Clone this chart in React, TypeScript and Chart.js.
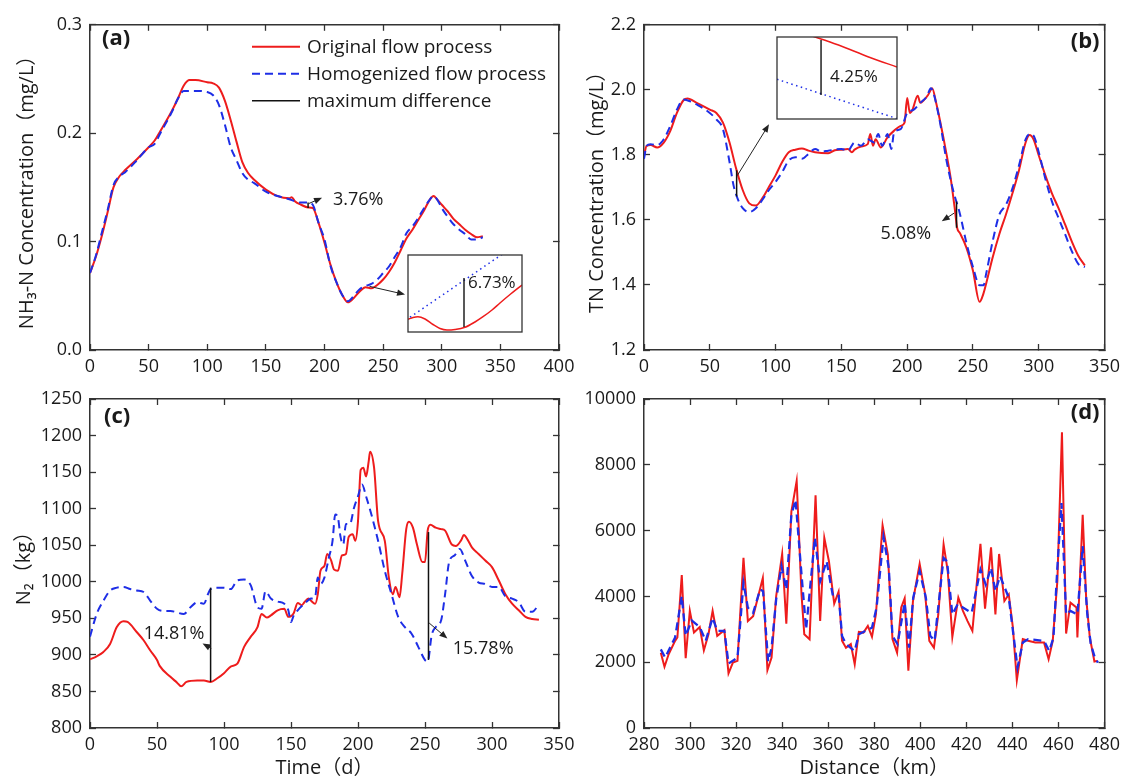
import React, { useEffect, useRef } from 'react';
import { Chart, registerables } from 'chart.js';

Chart.register(...registerables);

const W = 1132;
const H = 778;
const FONT = "'Open Sans', 'Noto Sans CJK SC', sans-serif";
const RED = '#ee1c1c';
const BLUE = '#1e2ee6';
const INK = '#1a1a1a';
const AXIS = '#333333';
Chart.defaults.font.family = FONT;
Chart.defaults.color = INK;

// ---------- (a) NH3-N ----------
const aRedX = [0, 5, 10, 15, 20, 25, 30, 40, 50, 55, 60, 70, 75, 80, 85, 90, 100, 105, 110, 115, 120, 125, 130, 135, 140, 150, 160, 170, 172, 175, 180, 186, 190, 195, 200, 205, 210, 215, 220, 225, 230, 235, 240, 245, 250, 255, 260, 265, 270, 275, 280, 285, 290, 293, 296, 300, 305, 310, 315, 320, 325, 330, 335];
const aRedY = [0.071, 0.086, 0.105, 0.127, 0.150, 0.160, 0.166, 0.176, 0.187, 0.193, 0.202, 0.221, 0.232, 0.244, 0.249, 0.249, 0.247, 0.246, 0.242, 0.230, 0.212, 0.192, 0.173, 0.163, 0.157, 0.148, 0.142, 0.140, 0.141, 0.137, 0.134, 0.1315, 0.131, 0.117, 0.099, 0.079, 0.063, 0.051, 0.044, 0.048, 0.054, 0.058, 0.057, 0.060, 0.065, 0.072, 0.081, 0.092, 0.103, 0.111, 0.120, 0.129, 0.139, 0.142, 0.139, 0.134, 0.128, 0.121, 0.116, 0.111, 0.107, 0.104, 0.105];
const aBlueX = [0, 5, 10, 15, 20, 25, 30, 40, 50, 55, 60, 70, 75, 80, 90, 100, 105, 110, 115, 120, 125, 130, 135, 140, 150, 160, 170, 180, 186, 190, 195, 200, 205, 210, 215, 220, 225, 230, 235, 240, 245, 250, 255, 260, 265, 270, 275, 280, 285, 290, 293, 296, 300, 305, 310, 315, 320, 325, 330, 335];
const aBlueY = [0.071, 0.087, 0.108, 0.129, 0.152, 0.160, 0.164, 0.175, 0.187, 0.190, 0.200, 0.220, 0.232, 0.239, 0.239, 0.238, 0.235, 0.226, 0.208, 0.187, 0.175, 0.163, 0.157, 0.154, 0.146, 0.142, 0.139, 0.136, 0.136, 0.134, 0.117, 0.102, 0.078, 0.063, 0.051, 0.045, 0.050, 0.056, 0.059, 0.061, 0.065, 0.071, 0.077, 0.086, 0.095, 0.108, 0.114, 0.122, 0.131, 0.139, 0.142, 0.139, 0.131, 0.123, 0.116, 0.111, 0.107, 0.102, 0.102, 0.104];
const aDiffX = [186];
const aDiffLo = [0.131];
const aDiffHi = [0.136];

// inset of (a)
const iaRedX = [232.0, 232.7, 233.4, 234.39, 235.51, 236.49, 237.47, 238.6, 240.0, 241.4, 242.53, 243.79, 244.91, 246.32, 248.0];
const iaRedY = [0.05598, 0.05626, 0.05638, 0.05603, 0.05517, 0.05455, 0.05431, 0.05439, 0.05473, 0.05556, 0.05638, 0.05743, 0.05852, 0.05984, 0.06132];
const iaBlueX = [232.28, 245.2];
const iaBlueY = [0.0563, 0.0661];
const iaDiffX = [239.86];
const iaDiffLo = [0.05478];
const iaDiffHi = [0.06242];

// ---------- (b) TN ----------
const bRedX = [0, 2, 5, 10, 15, 20, 25, 30, 33, 40, 50, 55, 60, 65, 70, 75, 80, 85, 90, 95, 100, 105, 110, 115, 120, 125, 130, 140, 145, 150, 155, 158, 160, 165, 170, 172, 174, 176, 180, 185, 190, 195, 198, 200, 202, 204, 208, 210, 213, 216, 219, 222, 225, 230, 233, 236, 238, 240, 245, 250, 255, 258, 260, 265, 270, 275, 280, 285, 290, 293, 296, 300, 305, 310, 315, 320, 325, 330, 335];
const bRedY = [1.798, 1.828, 1.830, 1.823, 1.838, 1.874, 1.929, 1.968, 1.973, 1.960, 1.939, 1.929, 1.899, 1.838, 1.758, 1.692, 1.651, 1.644, 1.667, 1.702, 1.737, 1.778, 1.808, 1.816, 1.820, 1.813, 1.808, 1.805, 1.814, 1.816, 1.818, 1.808, 1.816, 1.826, 1.833, 1.864, 1.828, 1.848, 1.823, 1.854, 1.874, 1.889, 1.899, 1.975, 1.929, 1.939, 1.982, 1.960, 1.970, 1.985, 2.005, 1.960, 1.904, 1.800, 1.730, 1.640, 1.575, 1.560, 1.515, 1.444, 1.348, 1.374, 1.404, 1.485, 1.556, 1.616, 1.682, 1.753, 1.838, 1.861, 1.848, 1.798, 1.737, 1.682, 1.636, 1.586, 1.535, 1.490, 1.460];
const bBlueX = [0, 2, 5, 10, 15, 20, 25, 30, 35, 40, 50, 55, 60, 65, 68, 71, 75, 80, 85, 90, 95, 100, 105, 110, 115, 120, 125, 130, 135, 140, 150, 155, 160, 165, 170, 175, 178, 181, 185, 188, 190, 195, 200, 205, 210, 215, 218, 220, 225, 230, 235, 240, 245, 250, 255, 258, 260, 265, 270, 275, 280, 285, 290, 293, 296, 300, 305, 310, 315, 320, 325, 330, 335];
const bBlueY = [1.788, 1.828, 1.833, 1.830, 1.848, 1.889, 1.939, 1.970, 1.965, 1.955, 1.929, 1.909, 1.879, 1.778, 1.707, 1.667, 1.636, 1.624, 1.636, 1.662, 1.692, 1.717, 1.747, 1.783, 1.793, 1.788, 1.803, 1.818, 1.810, 1.813, 1.818, 1.813, 1.838, 1.828, 1.848, 1.838, 1.864, 1.828, 1.864, 1.818, 1.869, 1.879, 1.929, 1.939, 1.960, 1.980, 2.005, 1.990, 1.899, 1.780, 1.690, 1.620, 1.530, 1.455, 1.399, 1.399, 1.434, 1.535, 1.616, 1.646, 1.697, 1.768, 1.848, 1.864, 1.859, 1.808, 1.727, 1.657, 1.606, 1.556, 1.505, 1.465, 1.455];
const bDiffX = [70.4, 237.5];
const bDiffLo = [1.672, 1.576];
const bDiffHi = [1.753, 1.657];

// inset of (b)
const ibRedX = [68.92, 70.42, 72.08, 73.75, 76.0];
const ibRedY = [1.7817, 1.7715, 1.7587, 1.745, 1.7288];
const ibBlueX = [66.0, 76.0];
const ibBlueY = [1.7078, 1.6407];
const ibDiffX = [69.67];
const ibDiffLo = [1.681];
const ibDiffHi = [1.7749];

// ---------- (c) N2 ----------
const cRedX = [0, 5, 10, 15, 20, 25, 28, 35, 40, 45, 50, 52, 60, 65, 68, 72, 80, 85, 90, 95, 100, 105, 110, 115, 120, 125, 128, 132, 135, 140, 145, 148, 150, 152, 155, 158, 160, 163, 165, 168, 170, 172, 175, 177, 180, 182, 185, 188, 191, 193, 196, 198, 200, 202, 204, 206, 208, 209, 212, 215, 220, 223, 226, 228, 231, 233, 236, 238, 241, 244, 248, 250, 252, 254, 258, 262, 265, 270, 273, 277, 279, 282, 285, 290, 295, 300, 305, 310, 315, 320, 325, 330, 335];
const cRedY = [894, 898, 904, 915, 938, 946, 945, 931, 920, 906, 893, 885, 870, 862, 857, 863, 865, 865, 863, 868, 875, 884, 888, 911, 925, 938, 956, 951, 954, 961, 963, 952, 953, 957, 971, 968, 972, 977, 974, 970, 983, 1015, 1022, 1038, 1029, 1017, 1015, 1036, 1038, 1061, 1065, 1056, 1083, 1153, 1156, 1144, 1165, 1178, 1156, 1083, 1056, 1006, 983, 993, 979, 1011, 1072, 1082, 1074, 1051, 1027, 1027, 1070, 1078, 1074, 1072, 1070, 1051, 1049, 1057, 1064, 1057, 1047, 1038, 1029, 1020, 1002, 983, 970, 961, 952, 949, 948];
const cBlueX = [0, 5, 10, 15, 20, 25, 30, 35, 40, 45, 50, 55, 60, 70, 75, 80, 85, 88, 90, 95, 100, 105, 110, 115, 120, 125, 128, 131, 135, 140, 145, 148, 150, 152, 155, 160, 165, 168, 170, 172, 175, 178, 181, 183, 185, 187, 189, 191, 194, 197, 200, 203, 206, 210, 215, 220, 225, 230, 235, 240, 245, 250, 252, 255, 258, 262, 265, 268, 272, 276, 280, 285, 290, 295, 300, 305, 310, 315, 320, 325, 330, 335];
const cBlueY = [925, 956, 974, 988, 992, 993, 990, 988, 986, 974, 963, 960, 960, 956, 965, 972, 970, 983, 990, 992, 992, 990, 1002, 1003, 995, 965, 963, 987, 977, 973, 970, 961, 945, 954, 961, 970, 977, 979, 1006, 997, 1006, 1031, 1056, 1092, 1088, 1061, 1051, 1079, 1079, 1101, 1117, 1133, 1117, 1092, 1056, 1015, 983, 952, 938, 929, 911, 893, 891, 927, 938, 947, 983, 1027, 1036, 1045, 1029, 1008, 999, 997, 993, 993, 980, 977, 972, 959, 959, 969];
const cDiffX = [90, 252.6];
const cDiffLo = [863, 893];
const cDiffHi = [992, 1068];

// ---------- (d) along distance ----------
const dRedX = [287.3, 288.9, 290.7, 293.5, 294.5, 296.4, 298.1, 299.9, 301.7, 304.2, 306.0, 308.0, 309.8, 311.8, 314.9, 316.7, 318.6, 320.6, 323.2, 325.1, 327.4, 331.6, 333.6, 335.4, 337.4, 340.0, 341.8, 344.0, 346.3, 348.4, 349.6, 351.9, 354.5, 356.5, 358.3, 360.3, 362.6, 364.5, 366.0, 367.7, 369.8, 371.5, 373.3, 375.3, 377.2, 379.0, 380.7, 383.6, 385.9, 387.9, 389.9, 391.7, 393.2, 394.8, 396.8, 399.7, 402.1, 403.9, 405.9, 407.8, 410.1, 411.9, 413.9, 416.5, 418.5, 420.5, 422.6, 426.1, 428.1, 430.7, 432.6, 434.2, 436.5, 438.4, 440.2, 441.9, 444.5, 446.8, 449.9, 453.7, 455.7, 457.5, 459.5, 461.5, 463.3, 465.2, 467.8, 468.2, 470.5, 472.0, 473.6, 475.6, 476.9];
const dRedY = [2290, 1860, 2240, 2650, 2750, 4650, 2120, 3560, 2900, 3070, 2360, 2850, 3560, 2800, 2970, 1660, 1990, 2040, 5170, 3250, 3400, 4560, 1760, 2140, 4010, 5290, 3170, 6580, 7510, 4060, 2850, 2700, 7070, 3250, 5780, 5070, 3780, 4140, 2650, 2440, 2550, 1940, 2920, 2900, 3100, 2770, 3450, 6160, 5270, 2700, 2290, 3660, 3940, 1740, 3860, 4990, 4060, 2650, 2440, 3450, 5580, 4770, 2770, 3960, 3560, 3250, 2950, 5600, 3630, 5490, 3450, 5290, 3860, 4060, 3050, 1450, 2700, 2650, 2600, 2600, 2090, 2650, 4460, 8990, 2870, 3810, 3660, 2750, 6480, 3960, 2750, 2020, 2040];
const dBlueX = [287.3, 289.2, 293.5, 296.4, 298.1, 300.7, 304.2, 306.8, 309.8, 311.8, 314.9, 316.7, 320.6, 323.2, 325.1, 327.4, 330.4, 331.7, 333.9, 335.4, 337.4, 339.7, 341.8, 344.0, 345.8, 348.4, 350.4, 354.2, 356.5, 359.3, 361.9, 364.5, 366.0, 367.7, 371.5, 373.3, 379.0, 381.0, 384.0, 386.3, 387.9, 390.1, 393.2, 395.1, 396.9, 399.7, 402.4, 404.3, 406.2, 410.1, 411.6, 413.9, 416.2, 422.3, 426.1, 428.4, 430.7, 432.6, 434.6, 438.4, 442.2, 444.5, 446.8, 453.7, 456.0, 457.8, 459.5, 461.3, 463.3, 465.2, 468.2, 470.5, 472.5, 474.0, 475.8, 477.1];
const dBlueY = [2390, 2140, 2750, 4010, 2800, 3270, 3070, 2650, 3350, 2950, 2950, 1960, 2140, 4410, 3660, 3500, 4210, 4160, 2020, 2440, 3910, 4920, 4210, 6480, 6940, 4670, 3000, 5780, 4460, 5070, 4060, 4060, 2800, 2550, 2340, 2850, 3050, 3660, 5800, 4870, 2800, 2550, 3810, 2440, 3960, 4770, 3960, 2800, 2650, 5170, 5070, 3450, 3760, 3500, 4820, 4360, 4870, 4160, 4620, 3960, 1840, 2600, 2700, 2650, 2340, 2750, 4870, 6840, 3450, 3560, 3450, 5530, 3450, 2550, 2140, 1990];

// ---------- labels ----------
const LABEL_RED = 'Original flow process';
const LABEL_BLUE = 'Homogenized flow process';
const LABEL_DIFF = 'maximum difference';

type Pt = { x: number; y: number };
const pts = (xs: number[], ys: number[]): Pt[] => xs.map((x, i) => ({ x, y: ys[i] }));

function redSet(xs: number[], ys: number[], smooth = true, width = 2) {
  return {
    label: LABEL_RED, data: pts(xs, ys), borderColor: RED, borderWidth: width,
    pointRadius: 0, fill: false, xAxisID: 'x', yAxisID: 'y',
    cubicInterpolationMode: smooth ? 'monotone' : 'default', tension: 0,
  };
}
function blueSet(xs: number[], ys: number[], smooth = true, dash = [8, 5], width = 2) {
  return {
    label: LABEL_BLUE, data: pts(xs, ys), borderColor: BLUE, borderWidth: width, borderDash: dash,
    pointRadius: 0, fill: false, xAxisID: 'x', yAxisID: 'y',
    cubicInterpolationMode: smooth ? 'monotone' : 'default', tension: 0,
  };
}
function diffSets(xs: number[], lo: number[], hi: number[], width = 1.5) {
  return xs.map((x, i) => ({
    label: LABEL_DIFF, data: [{ x, y: lo[i] }, { x, y: hi[i] }], borderColor: '#111111',
    borderWidth: width, pointRadius: 0, fill: false, xAxisID: 'x', yAxisID: 'y',
  }));
}

type Arrow = [number, number, number, number];
type Txt = { text: string; x: number; y: number; align: CanvasTextAlign; size: number };
type Notes = {
  arrows?: Arrow[];
  texts?: Txt[];
  panel?: { text: string; dx: number; dy: number; align: CanvasTextAlign };
  legend?: { dx: number; dy: number; gap: number; len: number; order: number[] };
  box?: boolean;
  fill?: boolean;
};

function drawArrow(ctx: CanvasRenderingContext2D, x1: number, y1: number, x2: number, y2: number) {
  const ang = Math.atan2(y2 - y1, x2 - x1);
  const L = 8;
  const hw = 3.2;
  const c = Math.cos(ang);
  const s = Math.sin(ang);
  ctx.beginPath();
  ctx.moveTo(x1, y1);
  ctx.lineTo(x2 - L * 0.7 * c, y2 - L * 0.7 * s);
  ctx.stroke();
  ctx.beginPath();
  ctx.moveTo(x2, y2);
  ctx.lineTo(x2 - L * c + hw * s, y2 - L * s - hw * c);
  ctx.lineTo(x2 - L * c - hw * s, y2 - L * s + hw * c);
  ctx.closePath();
  ctx.fill();
}

function notesPlugin(spec: Notes) {
  return {
    id: 'notes',
    beforeDatasetsDraw(chart: any) {
      if (!spec.fill) return;
      const { left, top, right, bottom } = chart.chartArea;
      const ctx = chart.ctx;
      ctx.save();
      ctx.fillStyle = '#ffffff';
      ctx.fillRect(left, top, right - left, bottom - top);
      ctx.restore();
    },
    afterDraw(chart: any) {
      const ctx: CanvasRenderingContext2D = chart.ctx;
      const xs = chart.scales.x;
      const ys = chart.scales.y;
      const ca = chart.chartArea;
      ctx.save();
      if (spec.box) {
        ctx.strokeStyle = AXIS;
        ctx.lineWidth = 1.3;
        ctx.strokeRect(ca.left, ca.top, ca.right - ca.left, ca.bottom - ca.top);
      }
      ctx.strokeStyle = '#222222';
      ctx.fillStyle = '#222222';
      ctx.lineWidth = 1;
      (spec.arrows || []).forEach((a) => {
        drawArrow(ctx, xs.getPixelForValue(a[0]), ys.getPixelForValue(a[1]), xs.getPixelForValue(a[2]), ys.getPixelForValue(a[3]));
      });
      ctx.fillStyle = INK;
      ctx.textBaseline = 'middle';
      (spec.texts || []).forEach((t) => {
        ctx.font = `${t.size}px ${FONT}`;
        ctx.textAlign = t.align;
        ctx.fillText(t.text, xs.getPixelForValue(t.x), ys.getPixelForValue(t.y));
      });
      if (spec.panel) {
        const p = spec.panel;
        ctx.font = `bold 22px ${FONT}`;
        ctx.textAlign = p.align;
        const x = p.align === 'left' ? ca.left + p.dx : ca.right + p.dx;
        ctx.fillText(p.text, x, ca.top + p.dy);
      }
      if (spec.legend) {
        const lg = spec.legend;
        ctx.font = `19px ${FONT}`;
        ctx.textAlign = 'left';
        lg.order.forEach((di, row) => {
          const ds = chart.data.datasets[di];
          const x0 = ca.left + lg.dx;
          const y0 = ca.top + lg.dy + row * lg.gap;
          ctx.save();
          ctx.strokeStyle = ds.borderColor;
          ctx.lineWidth = ds.borderWidth;
          ctx.setLineDash(ds.borderDash || []);
          ctx.beginPath();
          ctx.moveTo(x0, y0);
          ctx.lineTo(x0 + lg.len, y0);
          ctx.stroke();
          ctx.restore();
          ctx.fillStyle = INK;
          ctx.fillText(ds.label, x0 + lg.len + 7, y0 + 1);
        });
      }
      ctx.restore();
    },
  };
}

type Panel = {
  area: { left: number; top: number; right: number; bottom: number };
  scaleLeft: number;
  yTitle?: string;
  yTitlePad: number;
  xTitle?: string;
  xMin: number; xMax: number; xStep: number;
  yMin: number; yMax: number; yStep: number; yDec: number;
  datasets: any[];
  notes: Notes;
};

function mainConfig(p: Panel) {
  const yW = p.area.left - p.scaleLeft;
  const xH = p.xTitle ? H - p.area.bottom : 40;
  const grid = { display: true, drawOnChartArea: false, drawTicks: true, tickLength: -6, tickColor: AXIS, tickWidth: 1.3, color: AXIS };
  const border = { display: true, color: AXIS, width: 1.5 };
  const tickFont = { family: FONT, size: 18 };
  return {
    type: 'line',
    data: { datasets: p.datasets },
    options: {
      animation: false,
      responsive: false,
      events: [],
      layout: { padding: { left: p.scaleLeft, top: p.area.top, right: W - p.area.right, bottom: H - p.area.bottom - xH } },
      plugins: { legend: { display: false }, tooltip: { enabled: false } },
      scales: {
        x: {
          type: 'linear', axis: 'x', position: 'bottom', min: p.xMin, max: p.xMax,
          ticks: { stepSize: p.xStep, padding: 12, font: tickFont, color: INK, maxRotation: 0, autoSkip: false },
          grid, border,
          title: p.xTitle ? { display: true, text: p.xTitle, color: INK, font: { family: FONT, size: 20, lineHeight: 1 }, padding: { top: 0, bottom: 0 } } : { display: false },
          afterFit: (s: any) => { s.height = xH; },
        },
        x2: {
          type: 'linear', axis: 'x', position: 'top', min: p.xMin, max: p.xMax,
          ticks: { stepSize: p.xStep, display: false },
          grid, border,
          afterFit: (s: any) => { s.height = 0; },
        },
        y: {
          type: 'linear', axis: 'y', position: 'left', min: p.yMin, max: p.yMax,
          ticks: { stepSize: p.yStep, padding: 14, font: tickFont, color: INK, callback: (v: number) => v.toFixed(p.yDec) },
          grid, border,
          title: p.yTitle ? { display: true, text: p.yTitle, color: INK, font: { family: FONT, size: 20, lineHeight: 1 }, padding: { top: p.yTitlePad, bottom: 0 } } : { display: false },
          afterFit: (s: any) => { s.width = yW; },
        },
        y2: {
          type: 'linear', axis: 'y', position: 'right', min: p.yMin, max: p.yMax,
          ticks: { stepSize: p.yStep, display: false },
          grid, border,
          afterFit: (s: any) => { s.width = 0; },
        },
      },
    },
    plugins: [notesPlugin(p.notes)],
  };
}

function insetConfig(area: { left: number; top: number; right: number; bottom: number }, xMin: number, xMax: number, yMin: number, yMax: number, datasets: any[], notes: Notes) {
  return {
    type: 'line',
    data: { datasets },
    options: {
      animation: false,
      responsive: false,
      events: [],
      layout: { padding: { left: area.left, top: area.top, right: W - area.right, bottom: H - area.bottom } },
      plugins: { legend: { display: false }, tooltip: { enabled: false } },
      scales: {
        x: { type: 'linear', display: false, min: xMin, max: xMax },
        y: { type: 'linear', display: false, min: yMin, max: yMax },
      },
    },
    plugins: [notesPlugin(notes)],
  };
}

const makers: (() => any)[] = [
  // (a)
  () => mainConfig({
    area: { left: 90, top: 21, right: 559, bottom: 350 },
    scaleLeft: 0, yTitle: 'NH₃-N Concentration（mg/L）', yTitlePad: 17,
    xMin: 0, xMax: 400, xStep: 50, yMin: 0, yMax: 0.3, yStep: 0.1, yDec: 1,
    datasets: [...diffSets(aDiffX, aDiffLo, aDiffHi), blueSet(aBlueX, aBlueY), redSet(aRedX, aRedY)],
    notes: {
      arrows: [[186.8, 0.1352, 197.9, 0.1404], [238.4, 0.0587, 268.7, 0.0512]],
      texts: [{ text: '3.76%', x: 207.2, y: 0.1386, align: 'left', size: 18 }],
      panel: { text: '(a)', dx: 12, dy: 14, align: 'left' },
      legend: { dx: 162, dy: 22, gap: 27, len: 48, order: [2, 1, 0] },
    },
  }),
  // (b)
  () => mainConfig({
    area: { left: 644, top: 21, right: 1113, bottom: 350 },
    scaleLeft: 570, yTitle: 'TN Concentration（mg/L）', yTitlePad: 17,
    xMin: 0, xMax: 350, xStep: 50, yMin: 1.2, yMax: 2.2, yStep: 0.2, yDec: 1,
    datasets: [...diffSets(bDiffX, bDiffLo, bDiffHi), blueSet(bBlueX, bBlueY), redSet(bRedX, bRedY)],
    notes: {
      arrows: [[71, 1.737, 95, 1.894], [235.7, 1.621, 226.3, 1.596]],
      texts: [{ text: '5.08%', x: 199, y: 1.556, align: 'center', size: 18 }],
      panel: { text: '(b)', dx: -5, dy: 17, align: 'right' },
    },
  }),
  // (c)
  () => mainConfig({
    area: { left: 90, top: 399, right: 559, bottom: 728 },
    scaleLeft: 0, yTitle: 'N₂（kg）', yTitlePad: 14, xTitle: 'Time（d）',
    xMin: 0, xMax: 350, xStep: 50, yMin: 800, yMax: 1250, yStep: 50, yDec: 0,
    datasets: [...diffSets(cDiffX, cDiffLo, cDiffHi), blueSet(cBlueX, cBlueY), redSet(cRedX, cRedY)],
    notes: {
      arrows: [[90.5, 909, 84, 915.5], [253.1, 943.6, 266.7, 922.3]],
      texts: [
        { text: '14.81%', x: 62.7, y: 929, align: 'center', size: 18 },
        { text: '15.78%', x: 293.4, y: 908.7, align: 'center', size: 18 },
      ],
      panel: { text: '(c)', dx: 14, dy: 18, align: 'left' },
    },
  }),
  // (d)
  () => mainConfig({
    area: { left: 644, top: 399, right: 1113, bottom: 728 },
    scaleLeft: 570, yTitlePad: 0, xTitle: 'Distance（km）',
    xMin: 280, xMax: 480, xStep: 20, yMin: 0, yMax: 10000, yStep: 2000, yDec: 0,
    datasets: [blueSet(dBlueX, dBlueY, false, [8, 5], 2.3), redSet(dRedX, dRedY, false, 2)],
    notes: { panel: { text: '(d)', dx: -5, dy: 14, align: 'right' } },
  }),
  // inset (a)
  () => insetConfig({ left: 408, top: 255, right: 522, bottom: 332 }, 232, 248, 0.054, 0.066,
    [
      ...diffSets(iaDiffX, iaDiffLo, iaDiffHi, 1.4),
      blueSet(iaBlueX, iaBlueY, false, [1.5, 3.5], 1.5),
      redSet(iaRedX, iaRedY, true, 1.5),
    ],
    { box: true, fill: true, texts: [{ text: '6.73%', x: 240.42, y: 0.06164, align: 'left', size: 17 }] }),
  // inset (b)
  () => insetConfig({ left: 777, top: 37, right: 897, bottom: 119 }, 66, 76, 1.64, 1.78,
    [
      ...diffSets(ibDiffX, ibDiffLo, ibDiffHi, 1.4),
      blueSet(ibBlueX, ibBlueY, false, [1.5, 3.5], 1.5),
      redSet(ibRedX, ibRedY, true, 1.5),
    ],
    { box: true, fill: true, texts: [{ text: '4.25%', x: 70.42, y: 1.7117, align: 'left', size: 17 }] }),
];

function ChartCanvas({ make, z }: { make: () => any; z: number }) {
  const ref = useRef<HTMLCanvasElement>(null);
  useEffect(() => {
    if (!ref.current) return;
    const chart = new Chart(ref.current, make());
    return () => chart.destroy();
  }, [make]);
  return (
    <canvas
      ref={ref}
      width={W}
      height={H}
      style={{ position: 'absolute', left: 0, top: 0, width: W, height: H, zIndex: z }}
    />
  );
}

export default function App() {
  return (
    <div style={{ position: 'absolute', left: 0, top: 0, width: W, height: H, background: '#ffffff', overflow: 'hidden' }}>
      {makers.map((m, i) => (
        <ChartCanvas key={i} make={m} z={i + 1} />
      ))}
    </div>
  );
}
